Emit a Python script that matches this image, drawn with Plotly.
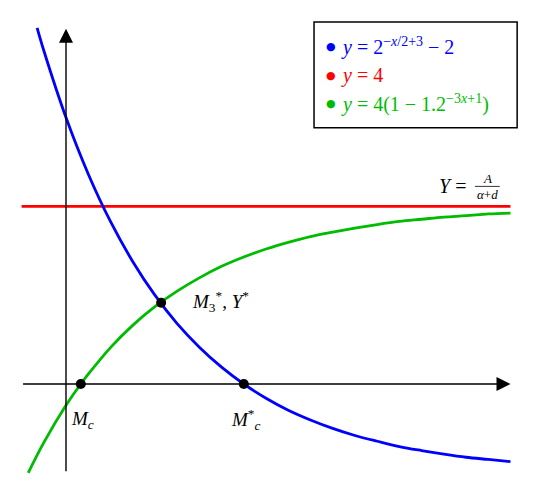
import plotly.graph_objects as go

# curves (x in axis units, 1 unit ~ 44.5 px)
blue_x = [-0.65, -0.5, 0, 0.5, 1, 1.5, 2, 2.5, 3, 3.5, 4, 4.5, 5, 5.5, 6, 6.5, 7, 7.5, 8, 8.5, 9, 9.5, 10]
blue_y = [8.02, 7.51, 6.0, 4.73, 3.66, 2.76, 2.0, 1.36, 0.83, 0.38, 0.0, -0.32, -0.59, -0.81, -1.0,
          -1.16, -1.29, -1.41, -1.5, -1.58, -1.65, -1.7, -1.75]

green_x = [-0.85, -0.5, 0, 0.333, 0.5, 1, 1.5, 2, 2.5, 3, 3.5, 4, 4.5, 5, 5.5, 6, 6.5, 7, 7.5, 8, 8.5, 9, 9.5, 10]
green_y = [-2.0, -1.32, -0.48, 0.0, 0.22, 0.82, 1.32, 1.74, 2.09, 2.39, 2.65, 2.86, 3.04, 3.19, 3.32,
           3.42, 3.51, 3.59, 3.66, 3.71, 3.76, 3.79, 3.83, 3.85]

red_x = [-1, 10]
red_y = [4, 4]

point_x = [0.333, 4.0, 2.14]
point_y = [0.0, 0.0, 1.83]

legend_labels = [
    '<i>y</i> = 2<sup>\u2212<i>x</i>/2+3</sup> \u2212 2',
    '<i>y</i> = 4',
    '<i>y</i> = 4(1 \u2212 1.2<sup>\u22123<i>x</i>+1</sup>)',
]
legend_colors = ['#0000ff', '#ff0000', '#00bb00']

FONT = 'Liberation Serif'

fig = go.Figure()
fig.add_trace(go.Scatter(x=red_x, y=red_y, mode='lines', line=dict(color='#ff0000', width=2.8)))
fig.add_trace(go.Scatter(x=blue_x, y=blue_y, mode='lines', line=dict(color='#0000ff', width=2.8, shape='spline')))
fig.add_trace(go.Scatter(x=green_x, y=green_y, mode='lines', line=dict(color='#00bb00', width=2.8, shape='spline')))
fig.add_trace(go.Scatter(x=point_x, y=point_y, mode='markers', marker=dict(color='black', size=10)))

# axes with arrowheads
fig.add_annotation(x=10, y=0, ax=-1, ay=0, xref='x', yref='y', axref='x', ayref='y', text='',
                   showarrow=True, arrowhead=2, arrowsize=2, arrowwidth=1.4, arrowcolor='black', standoff=0)
fig.add_annotation(x=0, y=8.0, ax=0, ay=-2, xref='x', yref='y', axref='x', ayref='y', text='',
                   showarrow=True, arrowhead=2, arrowsize=2, arrowwidth=1.4, arrowcolor='black', standoff=0)

# point labels
lab = dict(showarrow=False, font=dict(family=FONT, size=19, color='black'))
fig.add_annotation(x=0.36, y=-0.81, text='<i>M</i><sub><i>c</i></sub>', **lab)
fig.add_annotation(x=4.03, y=-0.81, text='<i>M</i><sup>*</sup><sub><i>c</i></sub>', **lab)
fig.add_annotation(x=2.79, y=1.85, xanchor='left', text='<i>M</i><sub>3</sub><sup>*</sup>, <i>Y</i><sup>*</sup>', **lab)

# Y = A / (alpha + d)
fig.add_annotation(x=9.15, y=4.46, xanchor='right', text='<i>Y</i> = ',
                   showarrow=False, font=dict(family=FONT, size=20, color='black'))
small = dict(showarrow=False, font=dict(family=FONT, size=13, color='black'))
fig.add_annotation(x=9.48, y=4.63, text='<i>A</i>', **small)
fig.add_annotation(x=9.48, y=4.26, text='<i>\u03b1</i>+<i>d</i>', **small)
fig.add_shape(type='line', x0=9.2, x1=9.76, y0=4.45, y1=4.45, line=dict(color='black', width=0.8))

# legend box
fig.add_shape(type='rect', x0=5.58, x1=10.15, y0=5.77, y1=8.15, line=dict(color='black', width=1.5),
              fillcolor='white', layer='above')
for i, (txt, col) in enumerate(zip(legend_labels, legend_colors)):
    yy = 7.59 - 0.64 * i
    fig.add_annotation(x=5.96, y=yy, text='\u25cf', showarrow=False,
                       font=dict(family='DejaVu Sans', size=11, color=col))
    fig.add_annotation(x=6.14, y=yy, xanchor='left', text=txt,
                       showarrow=False, font=dict(family=FONT, size=20, color=col))

# page body has an 8px margin, so ranges are shifted to land on the reference pixels
fig.update_xaxes(range=[-1.305, 10.844], visible=False, showgrid=False, zeroline=False)
fig.update_yaxes(range=[-2.703, 8.468], visible=False, showgrid=False, zeroline=False)
fig.update_layout(width=540, height=496, margin=dict(l=0, r=0, t=0, b=0),
                  plot_bgcolor='white', paper_bgcolor='white', showlegend=False)

fig.write_html("out.html")
